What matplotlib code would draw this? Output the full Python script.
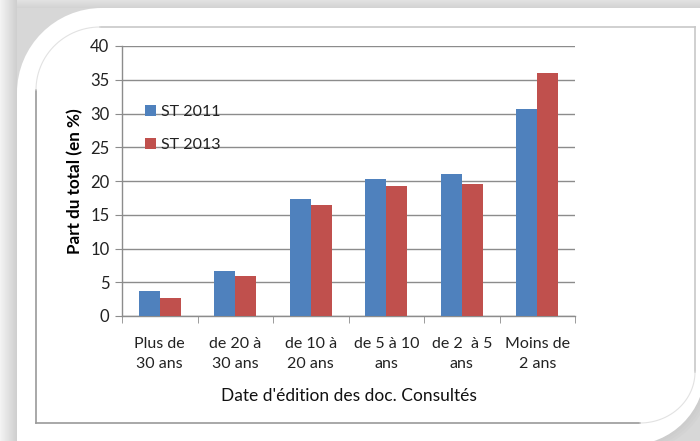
import numpy as np
import matplotlib
matplotlib.use("Agg")
import matplotlib.pyplot as plt
from matplotlib.path import Path
from matplotlib.patches import PathPatch

categories = ["Plus de\n30 ans", "de 20 à\n30 ans", "de 10 à\n20 ans",
              "de 5 à 10\nans", "de 2  à 5\nans", "Moins de\n2 ans"]
st2011 = [3.7, 6.6, 17.4, 20.3, 21.1, 30.7]
st2013 = [2.7, 5.9, 16.4, 19.3, 19.6, 36.0]
series_names = ["ST 2011", "ST 2013"]
yticks = [0, 5, 10, 15, 20, 25, 30, 35, 40]

plt.rcParams['font.family'] = ['Lato', 'DejaVu Sans']

W, H = 700, 441
fig = plt.figure(figsize=(W / 100, H / 100), dpi=100)
fig.patch.set_facecolor('#d6d6d6')

# background decoration axes in pixel coordinates
bg = fig.add_axes([0, 0, 1, 1], zorder=-5)
bg.set_xlim(0, W)
bg.set_ylim(H, 0)
bg.axis('off')

xx, yy = np.meshgrid(np.arange(W), np.arange(H))
img = 0.84 + 0.0 * xx
img = np.where(xx < 17, 0.95 - 0.15 * (xx / 17.0), img)
img = np.where((yy < 8) & (xx >= 17), 0.88 - 0.06 * (yy / 8.0), img)
bg.imshow(img, cmap='gray', vmin=0, vmax=1, extent=(0, W, H, 0), aspect='auto', zorder=0)

def rounded_shape(x0, y0, x1, y1, r_tl, r_br, k=0.5523):
    verts = [
        (x0, y1),
        (x0, y0 + r_tl),
        (x0, y0 + r_tl - k * r_tl), (x0 + r_tl - k * r_tl, y0), (x0 + r_tl, y0),
        (x1, y0),
        (x1, y1 - r_br),
        (x1, y1 - r_br + k * r_br), (x1 - r_br + k * r_br, y1), (x1 - r_br, y1),
        (x0, y1),
    ]
    codes = [Path.MOVETO, Path.LINETO, Path.CURVE4, Path.CURVE4, Path.CURVE4,
             Path.LINETO, Path.LINETO, Path.CURVE4, Path.CURVE4, Path.CURVE4,
             Path.CLOSEPOLY]
    return Path(verts, codes)

for i, a in enumerate([0.06, 0.06, 0.06, 0.06]):
    sh = rounded_shape(17 + 4, 8 + 4, 705 + 2 * i, 445 + 2 * i, 85, 75)
    bg.add_patch(PathPatch(sh, facecolor='#a0a0a0', edgecolor='none', alpha=a, zorder=1))

white = rounded_shape(17, 8, 705, 445, 85, 75)
bg.add_patch(PathPatch(white, facecolor='white', edgecolor='none', zorder=2))

# inner frame
bg.plot([36, 36], [90, 423], color='#9a9a9a', lw=1.2, zorder=3)
bg.plot([36, 640], [423, 423], color='#9a9a9a', lw=1.2, zorder=3)
bg.plot([100, 695], [27, 27], color='#c8c8c8', lw=1.2, zorder=3)
bg.plot([695, 695], [27, 372], color='#c8c8c8', lw=1.2, zorder=3)
t = np.linspace(0, np.pi / 2, 30)
bg.plot(100 - 64 * np.cos(t), 90 - 63 * np.sin(t), color='#e2e2e2', lw=0.8, zorder=3)
bg.plot(640 + 55 * np.sin(t), 372 + 51 * np.cos(t), color='#e2e2e2', lw=0.8, zorder=3)

# main chart
ax = fig.add_axes([122 / W, 1 - 316 / H, 453 / W, 270 / H])
ax.set_facecolor('none')
x = np.arange(len(categories))
bw = 0.28
ax.bar(x - bw / 2, st2011, bw, color='#4F81BD', label=series_names[0], zorder=3)
ax.bar(x + bw / 2, st2013, bw, color='#C0504D', label=series_names[1], zorder=3)

ax.set_xlim(-0.5, len(categories) - 0.5)
ax.set_ylim(0, 40)
ax.set_yticks(yticks)
ax.set_yticklabels([str(v) for v in yticks], fontsize=12, color='#222222')
ax.yaxis.grid(True, color='#8c8c8c', lw=1.0, zorder=0)
ax.set_axisbelow(True)

ax.set_xticks(x)
ax.set_xticklabels(categories, fontsize=11.5, color='#222222', linespacing=1.55)
ax.set_xticks(np.arange(-0.5, len(categories), 1), minor=True)
ax.tick_params(axis='x', which='major', length=0, pad=15)
ax.tick_params(axis='x', which='minor', length=5, color='#8c8c8c', direction='out')
ax.tick_params(axis='y', length=5, color='#8c8c8c', direction='out', pad=4)

for s in ['top', 'right']:
    ax.spines[s].set_visible(False)
for s in ['left', 'bottom']:
    ax.spines[s].set_color('#8c8c8c')
    ax.spines[s].set_linewidth(1.0)

ax.set_ylabel("Part du total (en %)", fontsize=12.3, fontweight='bold', labelpad=5)
ax.set_xlabel("Date d'édition des doc. Consultés", fontsize=12.5, labelpad=12, color='#111111')

leg = ax.legend(loc='upper left', bbox_to_anchor=(0.02, 0.835), frameon=False,
                fontsize=11.5, handlelength=0.65, handleheight=0.65, handletextpad=0.35,
                labelspacing=1.2)
for txt in leg.get_texts():
    txt.set_color('#222222')

fig.savefig("out.png", dpi=100, facecolor=fig.get_facecolor())
